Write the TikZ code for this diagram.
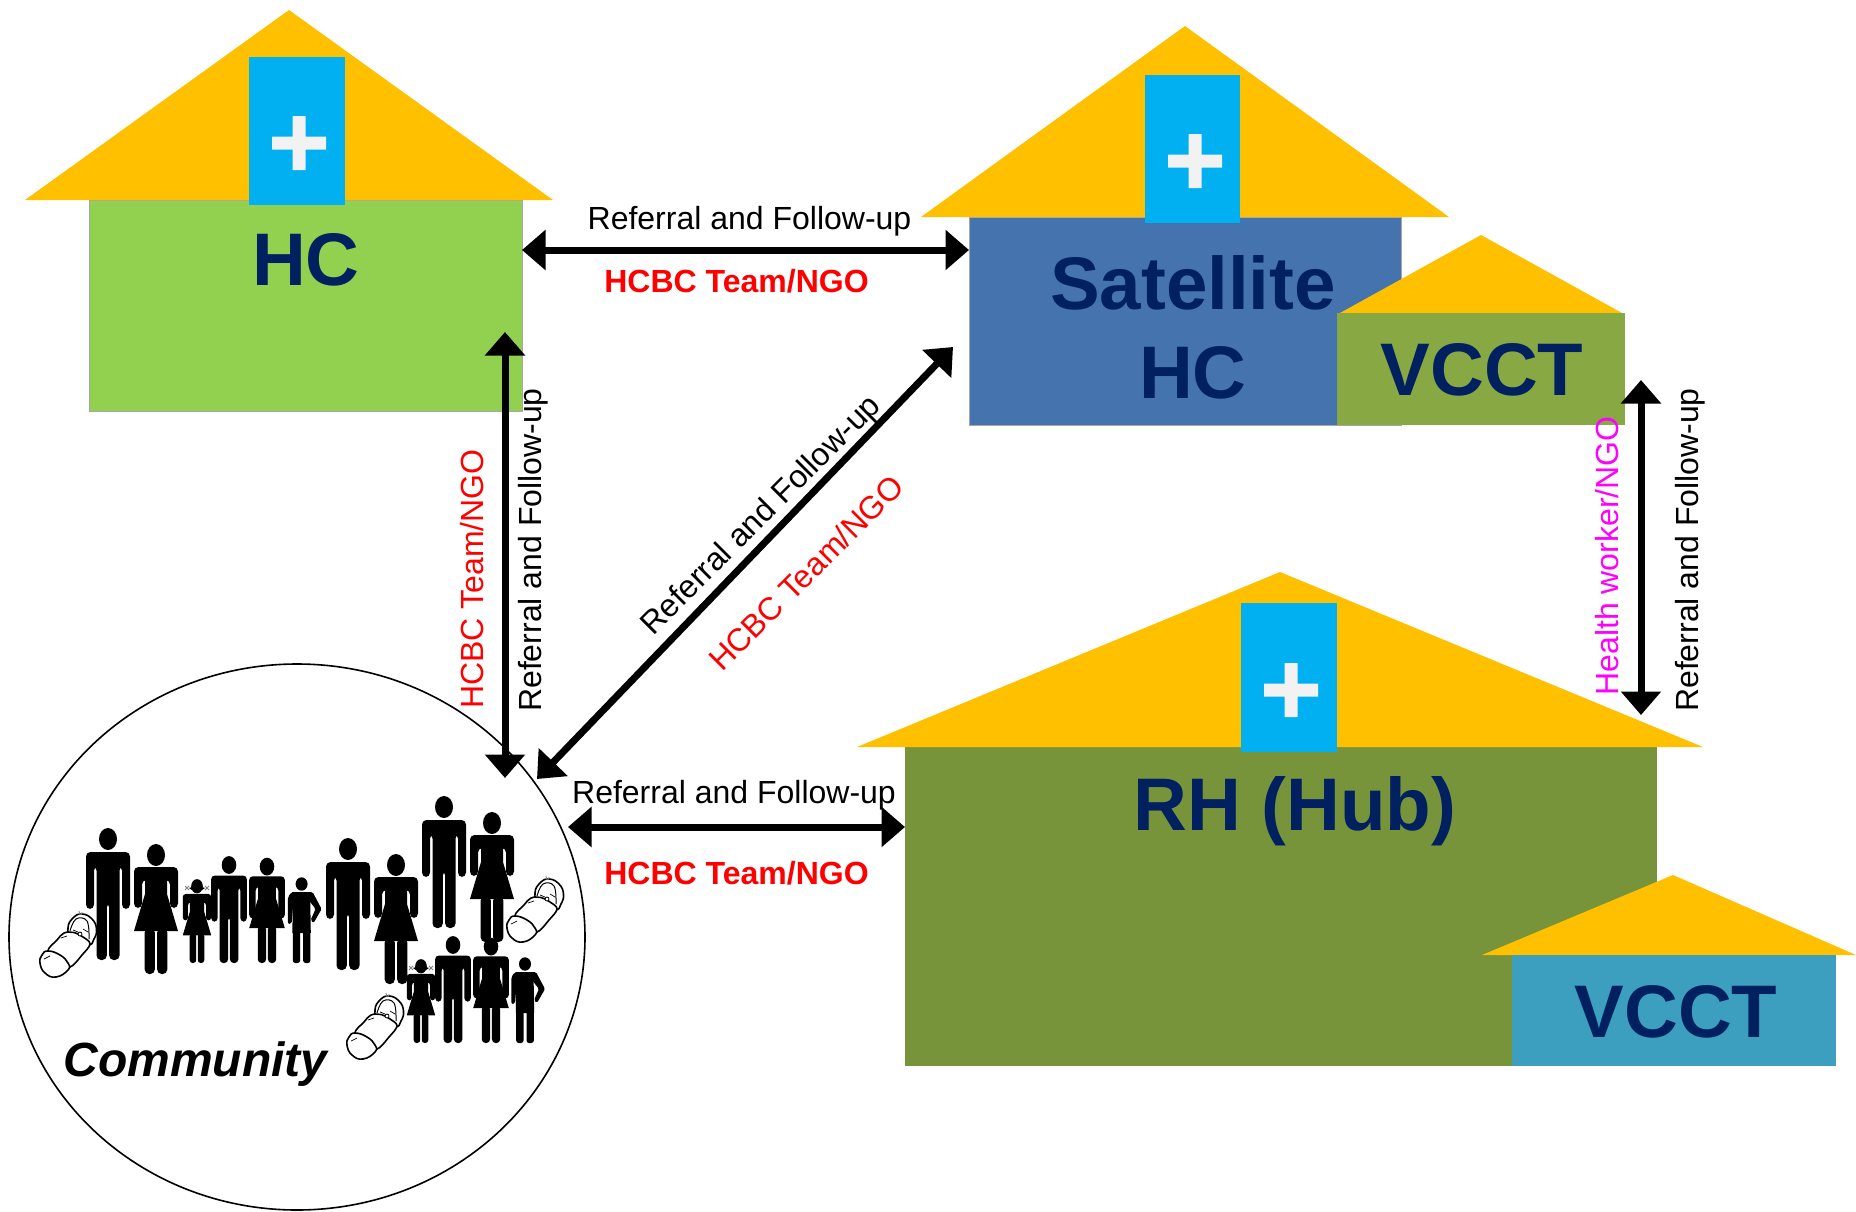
\documentclass[tikz,border=0pt]{standalone}
\usepackage{fontspec}
\setmainfont{Liberation Sans}
\usetikzlibrary{arrows.meta}
\definecolor{roofgold}{HTML}{FFC000}
\definecolor{crossblue}{HTML}{00B0F0}
\definecolor{crosswhite}{HTML}{F2F2F2}
\definecolor{hcgreen}{HTML}{92D050}
\definecolor{satblue}{HTML}{4473AE}
\definecolor{vcctgreen}{HTML}{88A843}
\definecolor{hubgreen}{HTML}{78943B}
\definecolor{vcctblue}{HTML}{3C9FBF}
\definecolor{navy}{HTML}{002060}
\definecolor{hotmagenta}{HTML}{FF00FF}
\definecolor{purered}{HTML}{FF0000}
\tikzset{
  x=1pt,y=-1pt,
  every node/.style={inner sep=0pt,outer sep=0pt},
  bigtext/.style={font=\fontsize{74.5}{80}\selectfont\bfseries,text=navy,anchor=base},
  small/.style={font=\fontsize{32}{36}\selectfont,anchor=base},
  smallbold/.style={font=\fontsize{32}{36}\selectfont\bfseries,text=purered,anchor=base},
  link/.style={line width=7pt,{Triangle[length=23.5pt,width=39pt]}-{Triangle[length=23.5pt,width=39pt]}},
  pics/personman/.style={code={
    \begin{scope}[scale=#1]
      \fill (0,-121) ellipse [x radius=9,y radius=11];
      \fill[rounded corners={#1*4.5pt}] (1.2,-57) -- (1.2,0) -- (11.5,0) -- (11.5,-94) -- (14,-94) -- (14,-51) -- (22,-51) -- (22,-108) -- (-22,-108) -- (-22,-51) -- (-14,-51) -- (-14,-94) -- (-11.5,-94) -- (-11.5,0) -- (-1.2,0) -- (-1.2,-57) -- cycle;
    \end{scope}}},
  pics/personwoman/.style args={#1/#2}{code={
    \begin{scope}[scale=#1]
      \fill (0,-119) ellipse [x radius=9,y radius=11];
      \fill[rounded corners={#1*4.5pt}] (-22,#2) -- (-14,#2) -- (-14,-94) -- (14,-94) -- (14,#2) -- (22,#2) -- (22,-107) -- (-22,-107) -- cycle;
      \fill (-11,-97) -- (11,-97) -- (11,-80) -- (22,-43) -- (-22,-43) -- (-11,-80) -- cycle;
      \fill[rounded corners={#1*4.5pt}] (-11.3,-46) -- (-11.3,0) -- (-1.2,0) -- (-1.2,-46) -- cycle;
      \fill[rounded corners={#1*4.5pt}] (11.3,-46) -- (11.3,0) -- (1.2,0) -- (1.2,-46) -- cycle;
    \end{scope}}},
  pics/pigtails/.style={code={
    \draw[line width=.8pt,gray] (-12,-77) -- (-8,-73) (-12,-73) -- (-8,-77) (12,-77) -- (8,-73) (12,-73) -- (8,-77);
    \fill (-5,-76) -- (-8,-75) -- (-5,-73) -- cycle (5,-76) -- (8,-75) -- (5,-73) -- cycle;
  }},
  pics/personboy/.style={code={
    \fill (0,-79) ellipse [x radius=6,y radius=6.7];
    % torso and shorts
    \fill (-8.8,-71) -- (8.5,-71) -- (9.2,-30) -- (-9.2,-30) -- cycle;
    % straight arm
    \fill[rounded corners=2pt] (-13.7,-39) -- (-10,-39) -- (-8,-64) -- (-8,-71) -- (-10,-71) -- (-13.7,-66) -- cycle;
    % arm on the hip
    \fill[rounded corners=1.5pt] (6,-71) -- (11,-71) -- (20,-54) -- (12,-40) -- (9,-43) -- (14,-54) -- (7,-63) -- cycle;
    % legs
    \fill[rounded corners=2.5pt] (-8.8,-33) -- (-8.8,0) -- (-1.5,0) -- (-1.5,-33) -- cycle;
    \fill[rounded corners=2.5pt] (8.8,-33) -- (8.8,0) -- (1.5,0) -- (1.5,-33) -- cycle;
  }},
  pics/swaddled/.style={code={
    % hood and face
    \draw[line width=1.6pt,fill=white] plot[smooth cycle,tension=.8] coordinates {(0,-17) (5,-27) (14,-31) (24,-26) (28.5,-16) (26,-6) (20,0) (4,-6)};
    \draw[line width=1pt] plot[smooth,tension=.7] coordinates {(2,-14) (8,-26) (19,-24) (21,-6)};
    \draw[line width=.7pt] (5,-15) -- (10,-13) (15,-16) -- (20,-13);
    \draw[line width=.8pt,gray] (11,-34) -- (12,-30) (14,-33) -- (13,-30);
    % wrapped body
    \draw[line width=1.6pt,fill=white] plot[smooth cycle,tension=.6] coordinates {(-20,6) (-11,-5) (-4,-12) (6,-12.5) (15,-8) (22,-1) (14,10) (2,22) (-8,14)};
    \draw[line width=.8pt,fill=white] (12,-11) circle (2);
    \draw[line width=.7pt] (-7,-7) -- (-1,-9);
    % feet
    \draw[line width=1.6pt,fill=white] plot[smooth cycle,tension=.8] coordinates {(-20,6) (-8,10) (0,18) (0,25) (-12,32) (-23,28) (-28,18) (-26,10)};
    \draw[line width=.7pt] (-24,14) -- (-18,11);
  }}
}
\begin{document}
\begin{tikzpicture}
\useasboundingbox (0,0) rectangle (1856,1211);
\fill[white] (0,0) rectangle (1856,1211);

% HC house
\node[draw=gray!70,line width=.8pt,fill=hcgreen,minimum width=433pt,minimum height=211pt] (hc) at (305.5,305.5) {};
\fill[roofgold] (289,10) -- (553,200) -- (25,200) -- cycle;
\node[fill=crossblue,minimum width=96pt,minimum height=148pt] (hcblue) at (297,131) {};
\fill[crosswhite] (272,136.5) rectangle (326,149.5) (292.5,116) rectangle (305.5,170);
\node[bigtext] (hclabel) at (306,285) {HC};

% Satellite HC house
\node[draw=gray!70,line width=.8pt,fill=satblue,minimum width=432pt,minimum height=208pt] (sat) at (1185,321) {};
\fill[roofgold] (1185,26) -- (1449,217) -- (921,217) -- cycle;
\node[fill=crossblue,minimum width=95pt,minimum height=148pt] (satblock) at (1192.5,149) {};
\fill[crosswhite] (1168,154.5) rectangle (1222,167.5) (1188.5,134) rectangle (1201.5,188);
\node[bigtext] (satlabela) at (1193,309) {Satellite};
\node[bigtext] (satlabelb) at (1193,398) {HC};

% VCCT next to the satellite
\fill[roofgold] (1481,235) -- (1622,313) -- (1340,313) -- cycle;
\node[fill=vcctgreen,minimum width=288pt,minimum height=112pt] (vcct) at (1481,369) {};
\node[bigtext] (vcctlabel) at (1482,395) {VCCT};

% Hub
\node[fill=hubgreen,minimum width=752pt,minimum height=319pt] (hub) at (1281,906.5) {};
\fill[roofgold] (1280,572) -- (1703,747) -- (857,747) -- cycle;
\node[fill=crossblue,minimum width=96pt,minimum height=149pt] (hubblue) at (1289,677.5) {};
\fill[crosswhite] (1264,683.5) rectangle (1318,696.5) (1284.5,663) rectangle (1297.5,717);
\node[bigtext] (hublabel) at (1295,830) {RH (Hub)};

% VCCT in the hub
\fill[roofgold] (1673,875) -- (1856,955) -- (1482,955) -- cycle;
\node[fill=vcctblue,minimum width=324pt,minimum height=111pt] (vcctb) at (1674,1010.5) {};
\node[bigtext] (vcctblabel) at (1676,1037) {VCCT};

% Community
\draw[line width=1.6pt,fill=white] (297,937) ellipse [x radius=288,y radius=273];

\pic at (108,960) {personman=1};
\pic at (156,974) {personwoman=1/-66};
\pic at (197,963) {personwoman=.645/-66};
\pic at (197,963) {pigtails};
\pic at (229,963) {personman=.81};
\pic at (267,963) {personwoman=.81/-55};
\pic at (301.6,963) {personboy};
\pic at (348,970) {personman=1};
\pic at (396,984) {personwoman=1/-66};
\pic at (444,928) {personman=1};
\pic at (492,942) {personwoman=1/-66};
\pic at (421,1043) {personwoman=.645/-66};
\pic at (421,1043) {pigtails};
\pic at (453,1043) {personman=.81};
\pic at (491,1043) {personwoman=.81/-55};
\pic at (525,1043) {personboy};
\pic at (68,945) {swaddled};
\pic at (535,910) {swaddled};
\pic at (375,1027) {swaddled};

\node[font=\fontsize{48}{50}\selectfont\bfseries\itshape,anchor=base] (communitylabel) at (195.5,1076) {Community};

% Connector ends
\coordinate (hcE) at (522,250);
\coordinate (satW) at (969,250);
\coordinate (hcS) at (505,332);
\coordinate (comN) at (505,778);
\coordinate (satSW) at (953,347);
\coordinate (comNE) at (537,779);
\coordinate (comE) at (568,827);
\coordinate (hubW) at (905,827);
\coordinate (vcctS) at (1641,380);
\coordinate (hubN) at (1641,715);

\draw[link] (hcE) -- (satW);
\draw[link] (hcS) -- (comN);
\draw[link] (satSW) -- (comNE);
\draw[link] (comE) -- (hubW);
\draw[link] (vcctS) -- (hubN);

% Labels
\node[small] (la) at (749.5,229) {Referral and Follow-up};
\node[smallbold] (lb) at (736.5,292) {HCBC Team/NGO};
\node[small,rotate=90] (lc) at (541,550) {Referral and Follow-up};
\node[small,text=purered,rotate=90] (ld) at (483,579) {HCBC Team/NGO};
\node[small,rotate=45] (le) at (768,522) {Referral and Follow-up};
\node[small,text=purered,rotate=45] (lf) at (814,581) {HCBC Team/NGO};
\node[small] (lg) at (734,803) {Referral and Follow-up};
\node[smallbold] (lh) at (736.5,884) {HCBC Team/NGO};
\node[small,rotate=90] (li) at (1698,550) {Referral and Follow-up};
\node[small,text=hotmagenta,rotate=90] (lj) at (1618,556) {Health worker/NGO};
\end{tikzpicture}
\end{document}
